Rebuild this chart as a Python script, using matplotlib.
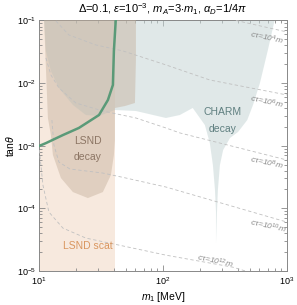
import numpy as np
import matplotlib
matplotlib.use('Agg')
import matplotlib.pyplot as plt
from matplotlib.ticker import LogLocator, NullFormatter

# ---- data (m1 in MeV, tan(theta)) ----
scat_m = [10.0, 41.0]

decay_m = [10.97, 11.39, 11.82, 12.49, 12.97, 15.05, 18.8, 24.83, 32.8,
           38.07, 40.25, 41.0, 41.0, 49.4, 59.5, 60.6, 60.6]
decay_t = [0.12, 1.74e-2, 2.77e-3, 1.48e-3, 7.1e-4, 3.05e-4, 1.82e-4,
           1.46e-4, 1.82e-4, 3.4e-4, 7.1e-4, 1.23e-3, 4.0e-3, 4.3e-3,
           4.81e-3, 2.34e-2, 0.12]

charm_m = [10.97, 11.39, 12.49, 14.5, 18.8, 23.94, 30.52, 41.0, 60.6, 105.8,
           137.0, 174.0, 218.0, 239.0, 253.0, 263.0, 268.0, 268.0, 273.0,
           277.6, 288.3, 306.0, 348.0, 404.0, 479.0, 533.0, 606.0, 703.0, 812.0]
charm_t = [0.12, 3.26e-2, 1.56e-2, 8.36e-3, 4.47e-3, 3.09e-3, 2.98e-3,
           3.72e-3, 3.58e-3, 2.77e-3, 3.09e-3, 4.0e-3, 2.14e-3, 1.10e-3,
           4.92e-4, 1.96e-4, 8.73e-5, 2.79e-5, 8.73e-5, 1.96e-4, 4.92e-4,
           8.53e-4, 1.33e-3, 1.66e-3, 2.57e-3, 4.47e-3, 1.0e-2, 3.38e-2, 0.12]

green_m = [10.0, 11.39, 15.62, 20.99, 30.52, 36.02, 39.51, 40.25, 41.76]
green_t = [9.88e-4, 1.10e-3, 1.48e-3, 1.92e-3, 3.09e-3, 5.37e-3, 9.33e-3,
           3.26e-2, 0.11]

# lines of constant c*tau
ctau4_m = [388.0, 1000.0]
ctau4_t = [0.1, 6.55e-2]
ctau6_m = [13.71, 17.46, 28.83, 47.6, 105.8, 239.0, 1000.0]
ctau6_t = [0.098, 5.86e-2, 4.06e-2, 3.26e-2, 1.95e-2, 1.12e-2, 6.46e-3]
ctau8_m = [11.39, 12.49, 14.5, 19.86, 32.8, 60.6, 105.8, 137.0, 1000.0]
ctau8_t = [2.52e-2, 1.35e-2, 8.36e-3, 4.81e-3, 3.58e-3, 2.77e-3, 1.92e-3,
           1.6e-3, 5.91e-4]
ctau10_m = [12.73, 13.21, 14.5, 17.78, 32.8, 50.3, 105.8, 1000.0]
ctau10_t = [2.57e-3, 1.03e-3, 5.49e-4, 4.25e-4, 3.66e-4, 3.05e-4, 2.19e-4,
            6.04e-5]
ctau12_m = [10.09, 10.77, 12.04, 15.62, 23.94, 44.2, 105.8, 367.0, 552.0]
ctau12_t = [8.53e-4, 2.36e-4, 8.73e-5, 4.84e-5, 3.35e-5, 2.59e-5, 1.79e-5,
            1.15e-5, 9e-6]

plt.rcParams['font.family'] = ['Liberation Sans', 'DejaVu Sans']
plt.rcParams['mathtext.fontset'] = 'custom'
plt.rcParams['mathtext.rm'] = 'Liberation Sans'
plt.rcParams['mathtext.it'] = 'Liberation Sans:italic'

fig = plt.figure(figsize=(2.97, 3.05), dpi=100)
ax = fig.add_axes([0.131, 0.1115, 0.835, 0.8215])
ax.set_xscale('log')
ax.set_yscale('log')
ax.set_xlim(10, 1000)
ax.set_ylim(1e-5, 1e-1)

# regions
ax.axvspan(scat_m[0], scat_m[1], color='#f7e9de', lw=0, zorder=1)
ax.fill(charm_m, charm_t, color='#c2d3d3', alpha=0.5, lw=0, zorder=2)
ax.fill(decay_m, decay_t, color='#c4b09c', alpha=0.45, lw=0, zorder=3)

# c*tau contours
dash = dict(color='#c0c0c0', lw=0.6, ls=(0, (4, 3)), zorder=4)
for mm, tt in [(ctau4_m, ctau4_t), (ctau6_m, ctau6_t), (ctau8_m, ctau8_t),
               (ctau10_m, ctau10_t), (ctau12_m, ctau12_t)]:
    ax.plot(mm, tt, **dash)

ax.plot(green_m, green_t, color='#5a9a78', lw=1.8, zorder=5)

# labels
ax.text(24.8, 1.2e-3, 'LSND', color='#8c7564', fontsize=7.5, ha='center', va='center', zorder=6)
ax.text(24.8, 6.6e-4, 'decay', color='#8c7564', fontsize=7.5, ha='center', va='center', zorder=6)
ax.text(24.8, 2.5e-5, 'LSND scat', color='#d9965f', fontsize=7.5, ha='center', va='center', zorder=6)
ax.text(300, 3.45e-3, 'CHARM', color='#5f7f80', fontsize=7.5, ha='center', va='center', zorder=6)
ax.text(300, 1.85e-3, 'decay', color='#5f7f80', fontsize=7.5, ha='center', va='center', zorder=6)

ct_kw = dict(color='#8a8a8a', fontsize=6, ha='center', va='center',
             rotation=-12, style='italic', zorder=6)
ax.text(690, 5.3e-2, r'$c\tau$=10$^{4}$m', **ct_kw)
ax.text(690, 5.0e-3, r'$c\tau$=10$^{6}$m', **ct_kw)
ax.text(690, 5.4e-4, r'$c\tau$=10$^{8}$m', **ct_kw)
ax.text(703, 5.1e-5, r'$c\tau$=10$^{10}$m', **ct_kw)
ax.text(263, 1.42e-5, r'$c\tau$=10$^{12}$m', **ct_kw)

ax.set_title(r'$\Delta$=0.1, $\epsilon$=10$^{-3}$, $m_A$=3$\cdot m_1$, $\alpha_D$=1/4$\pi$',
             fontsize=8, pad=5)
ax.set_xlabel(r'$m_1$ [MeV]', fontsize=7.5, labelpad=2)
ax.set_ylabel(r'tan$\theta$', fontsize=7.5, labelpad=1)

for sp in ax.spines.values():
    sp.set_color('#888888')
    sp.set_linewidth(0.7)
ax.xaxis.set_minor_locator(LogLocator(subs=np.arange(2, 10)))
ax.yaxis.set_minor_locator(LogLocator(subs=np.arange(2, 10)))
ax.xaxis.set_minor_formatter(NullFormatter())
ax.yaxis.set_minor_formatter(NullFormatter())
ax.tick_params(which='both', direction='in', top=True, right=True,
               color='#888888', labelsize=6.5, width=0.6)
ax.tick_params(axis='x', which='both', pad=3)
ax.tick_params(axis='y', which='both', pad=2)
ax.tick_params(which='major', length=4)
ax.tick_params(which='minor', length=2)

fig.savefig('out.png', dpi=100)
